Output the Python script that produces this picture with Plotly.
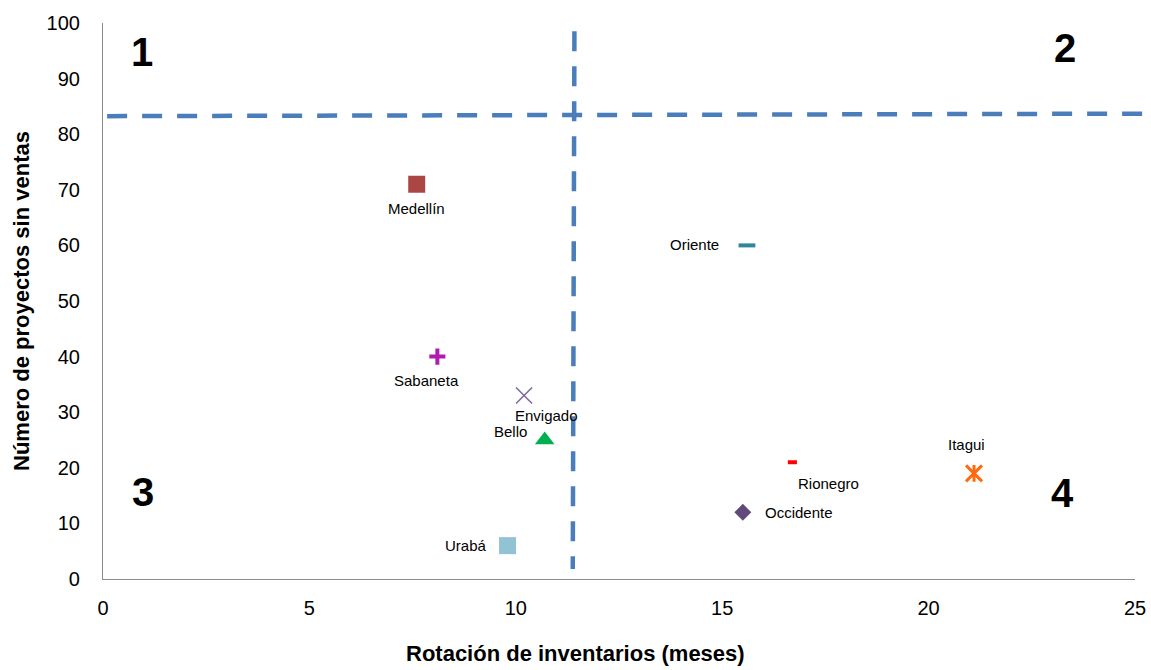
import plotly.graph_objects as go

# Data: inventory rotation (months) vs. number of projects without sales
regiones = ["Medellín", "Oriente", "Sabaneta", "Envigado", "Bello",
            "Urabá", "Rionegro", "Itagui", "Occidente"]
rotacion_meses = [7.6, 15.6, 8.1, 10.2, 10.7, 9.8, 16.7, 21.1, 15.5]
proyectos_sin_ventas = [71, 60, 40, 33, 25, 6, 21, 19, 12]

# Quadrant thresholds
umbral_rotacion = 11.4
umbral_proyectos_izq = 83.25
umbral_proyectos_der = 83.7

x_ticks = [0, 5, 10, 15, 20, 25]
y_ticks = [0, 10, 20, 30, 40, 50, 60, 70, 80, 90, 100]
X_RANGE = (0, 25)
Y_RANGE = (0, 100)

# Marker styling per region
simbolos = ["square", "line-ew", "cross-thin", "x-thin", "triangle-up",
            "square", "line-ew", "x-thin", "diamond"]
colores = ["#AA4643", "#31859C", "#B01CB0", "#7E6B9E", "#00B050",
           "#92C3D5", "#FF0000", "#FF6A10", "#604A7B"]
tamanos = [17, 12, 11.5, 16, 17, 17, 6.5, 16, 13]
grosor_linea = [0, 4, 4, 1.6, 0, 0, 4, 3, 0]
# label offsets in pixels (dx right, dy down)
etiqueta_dx = [0, -52, -11, 22, -34, -42, 36, -8, 56]
etiqueta_dy = [24, -1, 24, 20, -9, 0, 21, -29, 0]

FONT = "Arial, 'Liberation Sans', sans-serif"

fig = go.Figure()

rellenos = [c if w == 0 else "rgba(0,0,0,0)" for c, w in zip(colores, grosor_linea)]

fig.add_trace(go.Scatter(
    x=rotacion_meses,
    y=proyectos_sin_ventas,
    mode="markers",
    marker=dict(
        symbol=simbolos,
        size=tamanos,
        color=rellenos,
        opacity=1,
        line=dict(color=colores, width=grosor_linea),
    ),
    cliponaxis=False,
    hovertext=regiones,
    showlegend=False,
))

# vertical stroke completing the Itagui star marker
i_itagui = regiones.index("Itagui")
fig.add_trace(go.Scatter(
    x=[rotacion_meses[i_itagui]],
    y=[proyectos_sin_ventas[i_itagui]],
    mode="markers",
    marker=dict(symbol="line-ns", size=12, opacity=1,
                line=dict(color=colores[i_itagui], width=3)),
    showlegend=False,
))

for nombre, xv, yv, dx, dy in zip(regiones, rotacion_meses, proyectos_sin_ventas,
                                  etiqueta_dx, etiqueta_dy):
    fig.add_annotation(x=xv, y=yv, text=nombre, showarrow=False,
                       xshift=dx, yshift=-dy,
                       font=dict(family=FONT, size=15, color="#000000"))


def px(v):
    return (v - X_RANGE[0]) / (X_RANGE[1] - X_RANGE[0])


def py(v):
    return (v - Y_RANGE[0]) / (Y_RANGE[1] - Y_RANGE[0])


linea = dict(color="#4A7EBB", width=4.5, dash="20px,15px")
# vertical threshold
fig.add_shape(type="line", xref="paper", yref="paper",
              x0=px(umbral_rotacion + 0.02), y0=py(98.5),
              x1=px(umbral_rotacion - 0.02), y1=py(1.8), line=linea)
# horizontal threshold (runs past the right end of the axis)
fig.add_shape(type="line", xref="paper", yref="paper",
              x0=px(0.1), y0=py(umbral_proyectos_izq),
              x1=px(25.4), y1=py(umbral_proyectos_der), line=linea)

# quadrant numbers
cuadrantes = [("1", 0.94, 94.8), ("2", 23.3, 95.5), ("3", 0.96, 15.6), ("4", 23.25, 15.4)]
for txt, qx, qy in cuadrantes:
    fig.add_annotation(x=qx, y=qy, text=f"<b>{txt}</b>", showarrow=False,
                       font=dict(family=FONT, size=40, color="#000000"))

# axis titles
fig.add_annotation(xref="paper", yref="paper", x=0.4575, y=-0.1343,
                   xanchor="center", yanchor="middle",
                   text="<b>Rotación de inventarios (meses)</b>", showarrow=False,
                   font=dict(family=FONT, size=22, color="#000000"))
fig.add_annotation(xref="paper", yref="paper", x=-0.0795, y=0.5,
                   xanchor="center", yanchor="middle",
                   text="<b>Número de proyectos sin ventas</b>", showarrow=False,
                   textangle=-90,
                   font=dict(family=FONT, size=22, color="#000000"))

fig.update_layout(
    width=1151, height=670,
    margin=dict(l=103, r=16, t=23, b=91, autoexpand=False),
    paper_bgcolor="white", plot_bgcolor="white",
    font=dict(family=FONT, size=20, color="#000000"),
    xaxis=dict(range=list(X_RANGE), tickvals=x_ticks, showgrid=False, zeroline=False,
               showline=True, linecolor="#8C8C8C", linewidth=1.2, ticks="",
               automargin=False,
               ticklabelstandoff=11, tickfont=dict(size=20)),
    yaxis=dict(range=list(Y_RANGE), tickvals=y_ticks, showgrid=False, zeroline=False,
               showline=True, linecolor="#8C8C8C", linewidth=1.2, ticks="",
               automargin=False,
               ticklabelstandoff=18, tickfont=dict(size=20)),
)

fig.write_html("out.html")
